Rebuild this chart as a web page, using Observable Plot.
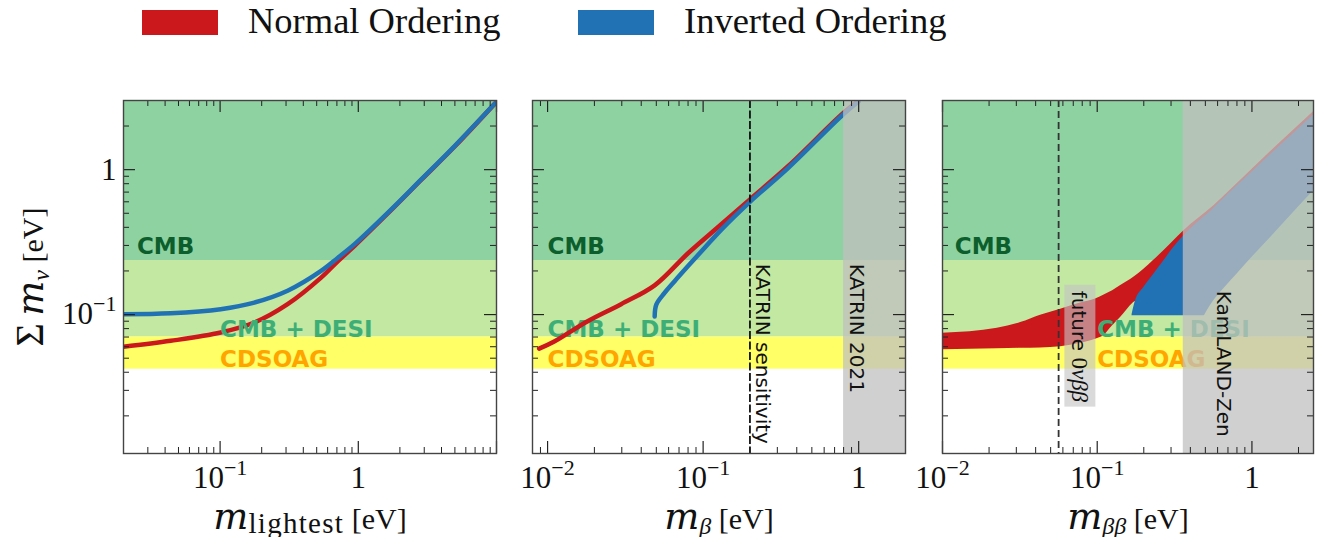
<!DOCTYPE html>
<html><head><meta charset="utf-8">
<script src="https://cdn.jsdelivr.net/npm/d3@7"></script>
<script src="https://cdn.jsdelivr.net/npm/@observablehq/plot@0.6"></script>
<style>
body{margin:0;background:#fff;}
#root{position:relative;width:1317px;height:537px;overflow:hidden;font-family:"Liberation Serif",serif;}
.sw{position:absolute;top:10px;height:25px;width:76px;}
.lt{position:absolute;top:3px;font-size:36.5px;line-height:1;color:#111;white-space:nowrap;font-family:"Liberation Serif",serif;}
</style></head><body><div id="root"></div>
<script>
// ---------------- data ----------------
const orderings = ["Normal Ordering", "Inverted Ordering"];
const orderColors = ["#cb181d", "#2171b5"];

const sumDomain = [0.011, 3];
const bandNames = ["CMB", "CMB + DESI", "CDSOAG"];
const bandLow = [0.236, 0.07, 0.042];
const bandHigh = [3, 0.236, 0.07];
const bandFill = ["#8fd2a1", "#c3e8a1", "#ffff66"];
const bandText = ["#0c5f2c", "#3daf76", "#ffa500"];
const bandLabelY = [0.26, 0.0705, 0.0436];

// panel 1 : m_lightest
const xDomain1 = [0.02, 10];
const mLightest = [0.02, 0.0439, 0.101, 0.177, 0.308, 0.538, 0.713, 0.94, 1.64, 2.87, 5.0, 9.77];
const sumNO1 = [0.06, 0.0659, 0.0752, 0.0881, 0.118, 0.180, 0.234, 0.298, 0.50, 0.855, 1.45, 2.87];
const sumIO1 = [0.1005, 0.102, 0.109, 0.121, 0.146, 0.200, 0.247, 0.306, 0.505, 0.859, 1.46, 2.87];
const labelX1 = [0.025, 0.1, 0.1];

// panel 2 : m_beta
const xDomain2 = [0.008, 2];
const mBetaNO = [0.00883, 0.01104, 0.0181, 0.0297, 0.0488, 0.080, 0.131, 0.20, 0.353, 0.80, 1.0];
const sumNO2 = [0.0582, 0.0652, 0.090, 0.118, 0.159, 0.265, 0.42, 0.624, 1.06, 2.47, 2.98];
const mBetaIO = [0.0488, 0.050, 0.0565, 0.0656, 0.080, 0.102, 0.131, 0.20, 0.353, 0.80, 1.0];
const sumIO2 = [0.097, 0.117, 0.141, 0.170, 0.216, 0.288, 0.386, 0.60, 1.03, 2.42, 2.95];
const labelX2 = [0.01, 0.01, 0.01];
const katrinSens = 0.2;
const katrin2021 = [0.8, 2];

// panel 3 : m_beta_beta
const xDomain3 = [0.01, 2.5];
const mbbNO = [0.01, 0.0226, 0.032, 0.043, 0.058, 0.078, 0.0975, 0.110, 0.1257, 0.141, 0.1714, 0.232, 0.297, 0.362, 0.565, 0.929, 1.52, 2.5];
const sumNO3hi = [0.0744, 0.0806, 0.0881, 0.099, 0.109, 0.120, 0.128, 0.136, 0.146, 0.158, 0.180, 0.237, 0.306, 0.378, 0.562, 0.929, 1.535, 2.51];
const sumNO3lo = [0.0571, 0.0580, 0.0585, 0.0588, 0.0599, 0.0633, 0.0676, 0.0713, 0.0836, 0.0949, 0.1205, 0.14, 0.18, 0.22, 0.40, 0.70, 1.2, 2.0];
const mbbIO = [0.168, 0.1766, 0.2, 0.232, 0.269, 0.312, 0.362, 0.488, 0.513, 0.565, 0.656, 0.80, 1.02, 1.38, 1.85, 2.5];
const sumIO3hi = [0.100, 0.124, 0.1535, 0.190, 0.2345, 0.290, 0.349, 0.47, 0.49, 0.54, 0.63, 0.77, 0.98, 1.33, 1.77, 2.38];
const sumIO3lo = [0.098, 0.098, 0.098, 0.098, 0.098, 0.098, 0.098, 0.098, 0.106, 0.124, 0.150, 0.190, 0.254, 0.358, 0.505, 0.713];
const labelX3 = [0.012, 0.1, 0.1];
const future0vbb = 0.0563;
const kamlandZen = [0.36, 2.5];

// tick labels
const decadeTicks1 = [0.1, 1];
const decadeLabels1 = ["10^-1", "1"];
const decadeTicks23 = [0.01, 0.1, 1];
const decadeLabels23 = ["10^-2", "10^-1", "1"];
const yTicks = [1, 0.1];
const yTickLabels = ["1", "10^-1"];

// ---------------- layout ----------------
const root = document.getElementById("root");
orderings.forEach((name, i) => {
  const sw = document.createElement("div");
  sw.className = "sw"; sw.style.left = [142, 578][i] + "px"; sw.style.background = orderColors[i];
  root.append(sw);
  const t = document.createElement("div");
  t.className = "lt"; t.style.left = [248, 684][i] + "px"; t.textContent = name;
  root.append(t);
});

const FT = 100, FH = 353, FB = 84;
const serif = "Liberation Serif";
const sans = "DejaVu Sans";
const M = '<tspan font-family="DejaVu Serif" font-style="italic" font-size="37">m</tspan>';

const rich = {
  "10^-1": '10<tspan dy="-13" font-size="22">−1</tspan>',
  "10^-2": '10<tspan dy="-13" font-size="22">−2</tspan>',
  "XL1": M + '<tspan font-size="29" letter-spacing="1.3" dy="4">lightest</tspan><tspan dy="-4"> [eV]</tspan>',
  "XL2": M + '<tspan font-style="italic" font-size="24" dy="5">β</tspan><tspan dy="-5"> [eV]</tspan>',
  "XL3": M + '<tspan font-style="italic" font-size="24" dy="5">ββ</tspan><tspan dy="-5"> [eV]</tspan>',
  "YL": '<tspan font-size="40">Σ</tspan> ' + M + '<tspan font-style="italic" font-size="24" dy="6">ν</tspan><tspan dy="-6"> [eV]</tspan>',
  "FUT": 'future <tspan font-family="Liberation Serif" font-size="23">0<tspan font-style="italic">νββ</tspan></tspan>'
};

function ticksFor(domain, along, frameLen) {
  const sc = d3.scaleLog().domain(domain);
  const all = sc.ticks();
  const isMajor = v => Math.abs(Math.log10(v) - Math.round(Math.log10(v))) < 1e-6;
  const out = [];
  for (const [vals, len, sw] of [[all.filter(v => !isMajor(v)), 6, 1], [all.filter(isMajor), 12, 1.2]]) {
    if (along === "x") {
      out.push(Plot.ruleX(vals, {x: d => d, insetTop: FH - len, stroke: "#222", strokeWidth: sw}));
      out.push(Plot.ruleX(vals, {x: d => d, insetBottom: FH - len, stroke: "#222", strokeWidth: sw}));
    } else {
      out.push(Plot.ruleY(vals, {y: d => d, insetRight: frameLen - len, stroke: "#222", strokeWidth: sw}));
      out.push(Plot.ruleY(vals, {y: d => d, insetLeft: frameLen - len, stroke: "#222", strokeWidth: sw}));
    }
  }
  return out;
}

function bandMarks(xDomain) {
  const idx = d3.range(bandNames.length);
  return [
    Plot.rect(idx, {x1: () => xDomain[0], x2: () => xDomain[1], y1: i => bandLow[i], y2: i => bandHigh[i], fill: i => bandFill[i]})
  ];
}
function bandLabels(labelX) {
  const idx = d3.range(bandNames.length);
  return Plot.text(idx, {x: i => labelX[i], y: i => bandLabelY[i], text: i => bandNames[i], fill: i => bandText[i],
    textAnchor: "start", lineAnchor: "bottom", fontFamily: sans, fontWeight: "bold", fontSize: 23});
}

function panel(o) {
  const frameW = o.frameRight - o.frameLeft;
  const width = o.ml + frameW + o.mr;
  const svg = Plot.plot({
    width, height: FT + FH + FB,
    marginTop: FT, marginBottom: FB, marginLeft: o.ml, marginRight: o.mr,
    x: {type: "log", domain: o.xDomain, axis: null},
    y: {type: "log", domain: sumDomain, axis: null},
    style: {background: "transparent", overflow: "visible"},
    marks: [
      ...bandMarks(o.xDomain),
      ...o.marks,
      ...ticksFor(o.xDomain, "x", frameW),
      ...ticksFor(sumDomain, "y", frameW),
      Plot.frame({stroke: "#444", strokeWidth: 1.4}),
      Plot.text(o.xTicks, {x: d => d, text: (d, i) => o.xTickLabels[i], frameAnchor: "bottom", dy: 34, lineAnchor: "bottom",
        fontFamily: serif, fontSize: 31, fill: "#111"}),
      Plot.text([o.xTitle], {text: d => d, frameAnchor: "bottom", dy: 75, lineAnchor: "bottom", fontFamily: serif, fontSize: 30, fill: "#111"}),
      ...(o.yLabels ? [
        Plot.text(yTicks, {y: d => d, text: (d, i) => yTickLabels[i], frameAnchor: "left", dx: -7, textAnchor: "end", lineAnchor: "middle",
          fontFamily: serif, fontSize: 31, fill: "#111"}),
        Plot.text(["YL"], {text: d => d, frameAnchor: "left", dx: -90, rotate: -90, textAnchor: "middle", lineAnchor: "middle",
          fontFamily: serif, fontSize: 30, fill: "#111"})
      ] : [])
    ]
  });
  svg.style.position = "absolute";
  svg.style.left = (o.frameLeft - o.ml) + "px";
  svg.style.top = "0px";
  root.append(svg);
  svg.querySelectorAll("text").forEach(t => {
    const s = t.textContent;
    if (rich[s]) t.innerHTML = rich[s];
    if (s === "FUT") {
      const b = t.getBBox();
      const r = document.createElementNS("http://www.w3.org/2000/svg", "rect");
      r.setAttribute("x", b.x - 6); r.setAttribute("y", b.y - 3);
      r.setAttribute("width", b.width + 10); r.setAttribute("height", b.height + 6);
      r.setAttribute("fill", "#c4c4c4"); r.setAttribute("fill-opacity", "0.62");
      if (t.getAttribute("transform")) r.setAttribute("transform", t.getAttribute("transform"));
      t.parentNode.insertBefore(r, t);
    }
  });
  return svg;
}

const lineOpts = (color) => ({x: d => d[0], y: d => d[1], stroke: color, strokeWidth: 4.5, curve: "catmull-rom", strokeLinecap: "round", clip: true});
const zip = (a, b) => a.map((v, i) => [v, b[i]]);

// Panel 1
panel({
  frameLeft: 123, frameRight: 496, ml: 123, mr: 10, xDomain: xDomain1,
  xTicks: decadeTicks1, xTickLabels: decadeLabels1, xTitle: "XL1", yLabels: true,
  marks: [
    Plot.line(zip(mLightest, sumNO1), lineOpts(orderColors[0])),
    Plot.line(zip(mLightest, sumIO1), lineOpts(orderColors[1])),
    bandLabels(labelX1)
  ]
});

// Panel 2
panel({
  frameLeft: 532, frameRight: 905, ml: 32, mr: 8, xDomain: xDomain2,
  xTicks: decadeTicks23, xTickLabels: decadeLabels23, xTitle: "XL2",
  marks: [
    bandLabels(labelX2),
    Plot.line(zip(mBetaNO, sumNO2), lineOpts(orderColors[0])),
    Plot.line(zip(mBetaIO, sumIO2), lineOpts(orderColors[1])),
    Plot.rect([katrin2021], {x1: d => d[0], x2: d => d[1], y1: () => sumDomain[0], y2: () => sumDomain[1], fill: "#c0c0c0", fillOpacity: 0.75}),
    Plot.ruleX([katrinSens], {x: d => d, stroke: "#111", strokeWidth: 1.8, strokeDasharray: "8,2.5"}),
    Plot.text(["KATRIN sensitivity"], {x: () => 0.239, y: () => 0.224, text: d => d, rotate: 90, textAnchor: "start", lineAnchor: "middle",
      fontFamily: sans, fontSize: 20, fill: "#111"}),
    Plot.text(["KATRIN 2021"], {x: () => 0.96, y: () => 0.224, text: d => d, rotate: 90, textAnchor: "start", lineAnchor: "middle",
      fontFamily: sans, fontSize: 20, fill: "#111"})
  ]
});

// Panel 3
const idxNO = d3.range(mbbNO.length), idxIO = d3.range(mbbIO.length);
panel({
  frameLeft: 942, frameRight: 1313, ml: 32, mr: 3, xDomain: xDomain3,
  xTicks: decadeTicks23, xTickLabels: decadeLabels23, xTitle: "XL3",
  marks: [
    Plot.areaY(idxNO, {x: i => mbbNO[i], y1: i => sumNO3lo[i], y2: i => sumNO3hi[i], fill: orderColors[0], curve: "monotone-x", clip: true}),
    Plot.areaY(idxIO, {x: i => mbbIO[i], y1: i => sumIO3lo[i], y2: i => sumIO3hi[i], fill: orderColors[1], curve: "monotone-x", clip: true}),
    bandLabels(labelX3),
    Plot.rect([kamlandZen], {x1: d => d[0], x2: d => d[1], y1: () => sumDomain[0], y2: () => sumDomain[1], fill: "#c0c0c0", fillOpacity: 0.75}),
    Plot.ruleX([future0vbb], {x: d => d, stroke: "#333", strokeWidth: 1.8, strokeDasharray: "7,4"}),
    Plot.text(["FUT"], {x: () => 0.076, y: () => 0.146, text: d => d, rotate: 90, textAnchor: "start", lineAnchor: "middle",
      fontFamily: sans, fontSize: 20, fill: "#111"}),
    Plot.text(["KamLAND-Zen"], {x: () => 0.65, y: () => 0.146, text: d => d, rotate: 90, textAnchor: "start", lineAnchor: "middle",
      fontFamily: sans, fontSize: 20, fill: "#111"})
  ]
});
</script></body></html>
